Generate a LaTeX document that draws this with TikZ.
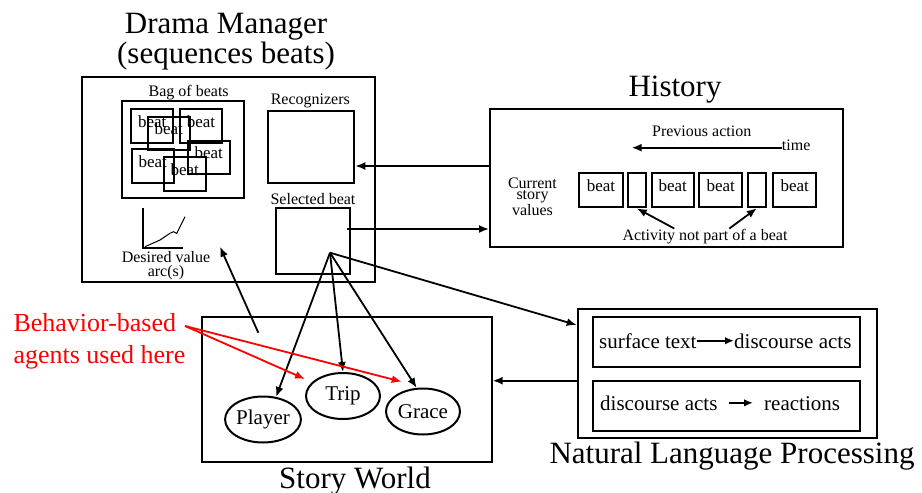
\documentclass[tikz,border=0pt]{standalone}
\usepackage{fontspec}
\setmainfont{Liberation Serif}
\usetikzlibrary{shapes.geometric, arrows.meta}
\newcommand{\fs}[1]{\fontsize{#1}{#1}\selectfont}

\begin{document}
\begin{tikzpicture}[x=1pt, y=-1pt,
  box/.style={draw, line width=2pt, inner sep=0pt},
  beatbox/.style={box, minimum width=42pt, minimum height=33.5pt, font=\fs{17}, text height=.55em, text depth=.25em},
  agent/.style={draw, ellipse, line width=2pt, minimum width=74pt, minimum height=46pt, inner sep=0pt, font=\fs{21}},
  title/.style={anchor=base, font=\fs{31}},
  small/.style={font=\fs{16}, inner sep=0pt},
  nlptext/.style={font=\fs{21}, inner sep=0pt, anchor=base west},
  arr/.style={-{Latex[length=10pt,width=8pt]}, line width=1.8pt},
  textarr/.style={-{Latex[length=9pt,width=7.5pt]}, line width=2pt}]
\useasboundingbox (0,0) rectangle (922,493);

% drama manager
\node[box, minimum width=293pt, minimum height=205pt] (dm) at (228.5,179.5) {};
\node[title] (dmtitle) at (226,33) {Drama Manager};
\node[title] (dmsub) at (226,63) {(sequences beats)};
\node[box, minimum width=122pt, minimum height=97pt] (bag) at (183,149.5) {};
\node[small, anchor=base] (baglabel) at (188.7,96.7) {Bag of beats};
\foreach \n/\x/\y in {b1/152.3/125.8, b2/168.8/133.3, b3/201/125.8, b4/152.8/165.8, b5/208.8/157.3, b6/184.7/174}
  \node[beatbox] (\n) at (\x,\y) {beat};
\node[box, minimum width=86.6pt, minimum height=72pt] (rec) at (311,146.7) {};
\node[small, anchor=base] (reclabel) at (310.3,104.3) {Recognizers};
\node[box, minimum width=74.3pt, minimum height=65.7pt] (sel) at (312.9,241.2) {};
\node[small, anchor=base] (sellabel) at (313,204) {Selected beat};
% desired value arc
\draw[line width=2pt] (143.3,208) -- (143.3,248) -- (183,248);
\draw[line width=1pt] (145,246.7) -- (160,240) -- (170,233.3) -- (173.3,231.7) -- (176.7,233.3) -- (180,226.7) -- (185,216.7);
\node[small, align=center, font=\fontsize{16}{14.7}\selectfont, anchor=base] (arc) at (166,276.7) {Desired value\\arc(s)};

% history
\node[box, minimum width=353pt, minimum height=137.4pt] (hist) at (666.5,178) {};
\node[title] (histtitle) at (675,96) {History};
\node[small, anchor=base] (prev) at (701.7,136.7) {Previous action};
\node[small, anchor=base west] (time) at (781.7,150.7) {time};
\coordinate (past) at (631.7,147.7);
\draw[arr] (time.west |- past) -- (past);
\node[small, align=center, font=\fontsize{16}{10.8}\selectfont, anchor=base] (cur) at (532.5,215) {Current\\story\\values};
\foreach \n/\x/\w in {hb1/601/43.4, hb2/672.8/42.3, hb3/720.8/43, hb4/794.7/42.7}
  \node[beatbox, minimum width=\w pt, minimum height=34.6pt] (\n) at (\x,190) {beat};
\foreach \n/\x in {hs1/636.8, hs2/756.8}
  \node[box, minimum width=18.3pt, minimum height=34.6pt] (\n) at (\x,190) {};
\node[small, anchor=base] (act) at (705,240) {Activity not part of a beat};
\draw[arr] ([xshift=-30.7pt]act.north) -- (hs1.south);
\draw[arr] ([xshift=24.3pt]act.north) -- (hs2.south);

% story world
\node[box, minimum width=289.4pt, minimum height=145pt] (story) at (347,389.8) {};
\node[title] (storytitle) at (355,488) {Story World};
\node[agent] (player) at (263,419.5) {Player};
\node[agent] (trip) at (343,396) {Trip};
\node[agent] (grace) at (423,411.5) {Grace};

% natural language processing
\node[box, minimum width=299pt, minimum height=129.3pt] (nlp) at (727.2,373.7) {};
\node[box, minimum width=266.7pt, minimum height=50pt] (parse) at (726.7,341.7) {};
\node[box, minimum width=266.7pt, minimum height=50pt] (react) at (726.7,405.7) {};
\node[title] (nlptitle) at (732,463) {Natural Language Processing};
\node[nlptext] (surf) at (599,348) {surface text};
\node[nlptext] (acts) at (734,348) {discourse acts};
\draw[textarr] (surf.east) -- (acts.west |- surf.east);
\node[nlptext] (acts2) at (600,410) {discourse acts};
\node[nlptext] (reac) at (764,410) {reactions};
\draw[textarr, shorten <=11pt, shorten >=11pt] (acts2.east) -- (reac.west |- acts2.east);

% connectors
\coordinate (h1) at (0,166);
\draw[arr] (hist.west |- h1) -- (rec.east |- h1);
\coordinate (s1) at (347,229);
\draw[arr] (s1) -- (hist.west |- s1);
\coordinate (fan) at (330,252.7);
\coordinate (n1) at (0,325);
\draw[arr] (fan) -- (player.60);
\draw[arr] (fan) -- (trip.north);
\draw[arr] (fan) -- (grace.105);
\draw[arr] (fan) -- (nlp.west |- n1);
\coordinate (sw) at (258.3,332.7);
\coordinate (dmin) at (220,246.7);
\draw[arr] (sw) -- (dmin);
\coordinate (n2) at (0,380.7);
\draw[arr] (nlp.west |- n2) -- (story.east |- n2);

% behaviour-based agents
\node[font=\fontsize{26}{31.7}\selectfont, text=red, align=left, anchor=base west, inner sep=0pt] (agents) at (13.3,363.3) {Behavior-based\\agents used here};
\coordinate (rs) at (185,326);
\coordinate (rt) at (305,379);
\coordinate (rg) at (401.7,381.7);
\draw[arr, red] (rs) -- (rt);
\draw[arr, red] (rs) -- (rg);
\end{tikzpicture}
\end{document}
